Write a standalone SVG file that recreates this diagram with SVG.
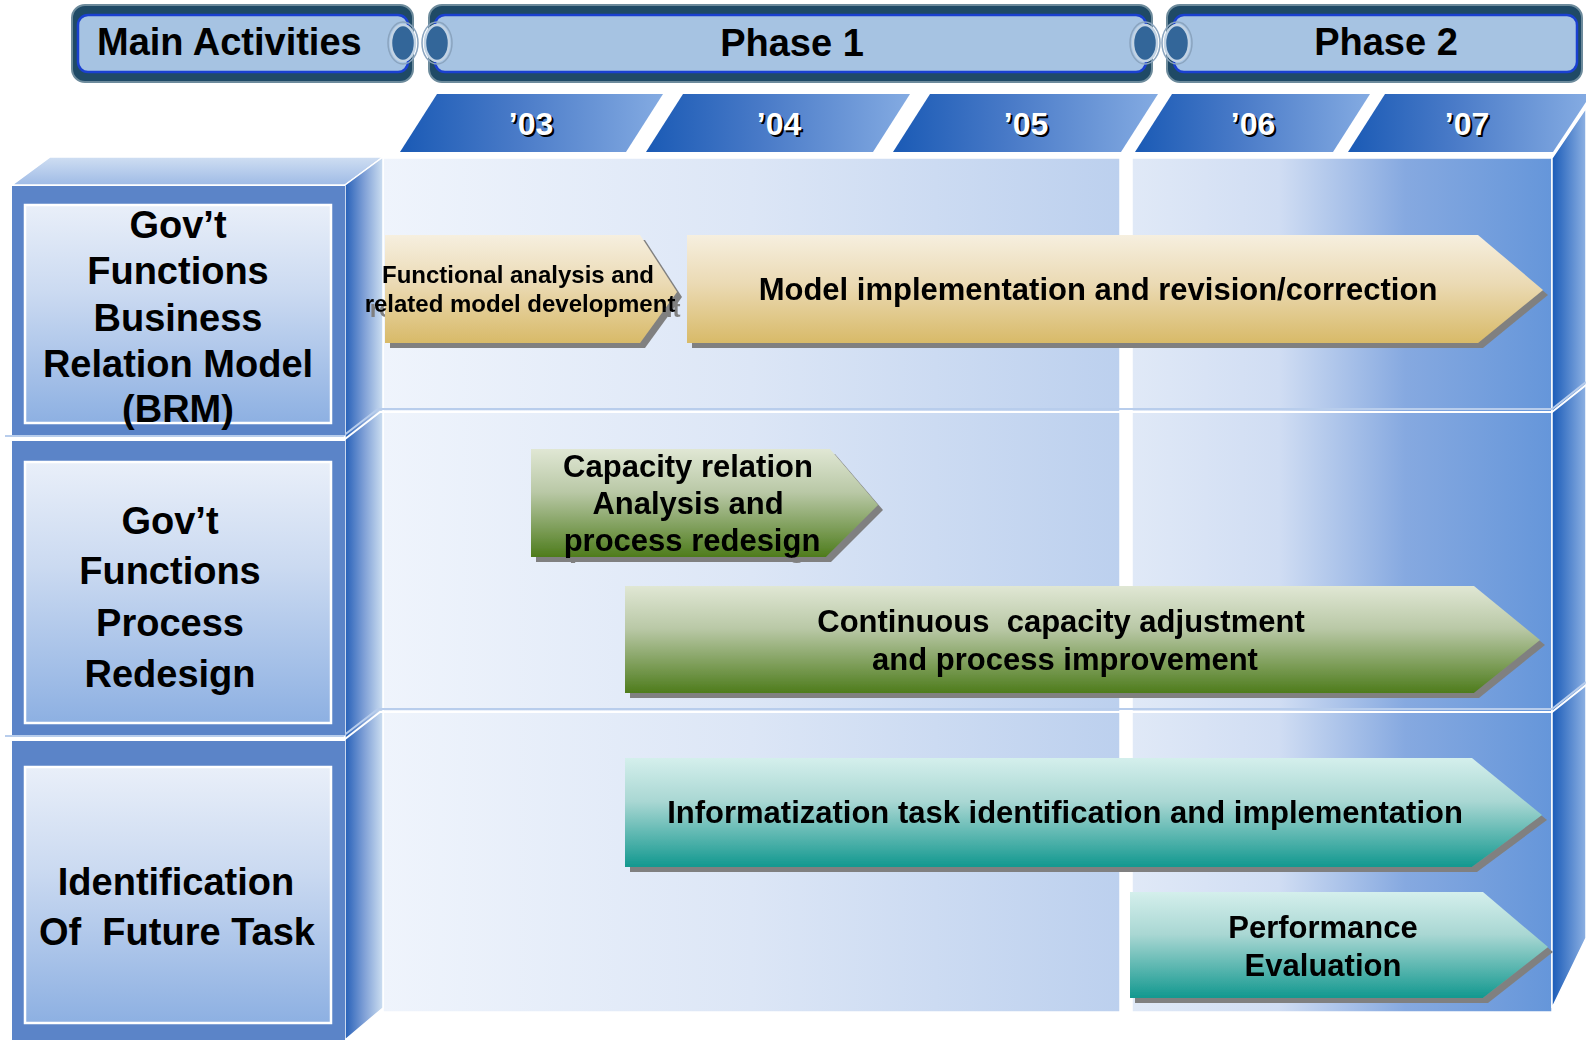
<svg xmlns="http://www.w3.org/2000/svg" width="1586" height="1040" viewBox="0 0 1586 1040">
<style>
text{font-family:"Liberation Sans",Arial,sans-serif;font-weight:bold;}
.hd{font-size:38px;fill:#000;}
.lb{font-size:38px;fill:#000;text-anchor:middle;}
.yr{font-size:32px;text-anchor:middle;}
.at{font-size:31px;fill:#000;text-anchor:middle;white-space:pre;}
.sm{font-size:24px;}
.arrow{filter:url(#ds);}
.hOuter{fill:#1f4a66;stroke:#6d8b9c;stroke-width:2;}
.hInner{fill:#a6c3e2;stroke:#1a40d0;stroke-width:2.5;}
.ring{fill:#336699;stroke:#c2d3e4;stroke-width:2.5;}
.ring2{fill:none;stroke:#8aa4bf;stroke-width:1.5;}
.inner{fill:url(#gInner);stroke:#ffffff;stroke-width:2.5;}
.outer{fill:#5b84c8;}
.sep{fill:none;stroke:#ffffff;stroke-width:2;}
.sep2{fill:none;stroke:#b8cdec;stroke-width:2;}
</style>
<defs>
<filter id="ds" x="-5%" y="-10%" width="115%" height="130%">
<feOffset in="SourceAlpha" dx="5" dy="5" result="off"/>
<feFlood flood-color="#808080"/>
<feComposite in2="off" operator="in" result="sh"/>
<feMerge><feMergeNode in="sh"/><feMergeNode in="SourceGraphic"/></feMerge>
</filter>
<linearGradient id="gYear" x1="0" y1="0" x2="1" y2="0">
<stop offset="0" stop-color="#1a5ab5"/><stop offset="0.45" stop-color="#4a7bc8"/><stop offset="1" stop-color="#84abe2"/>
</linearGradient>
<linearGradient id="gInner" x1="0" y1="0" x2="0" y2="1">
<stop offset="0" stop-color="#e9eff9"/><stop offset="0.4" stop-color="#cbdaf1"/><stop offset="1" stop-color="#8db0e2"/>
</linearGradient>
<linearGradient id="gTop" x1="0" y1="0" x2="0" y2="1">
<stop offset="0" stop-color="#cfdef2"/><stop offset="1" stop-color="#9fbbe6"/>
</linearGradient>
<linearGradient id="gSide" x1="0" y1="0" x2="1" y2="0">
<stop offset="0" stop-color="#2660b8"/><stop offset="0.5" stop-color="#7e9fd6"/><stop offset="1" stop-color="#cddff1"/>
</linearGradient>
<linearGradient id="gRSide" x1="0" y1="0" x2="1" y2="0">
<stop offset="0" stop-color="#1a5bb8"/><stop offset="1" stop-color="#8db1e3"/>
</linearGradient>
<linearGradient id="gPanL" x1="0" y1="0" x2="1" y2="0">
<stop offset="0" stop-color="#eff4fc"/><stop offset="0.5" stop-color="#dce6f6"/><stop offset="1" stop-color="#bcd0ee"/>
</linearGradient>
<linearGradient id="gPanR" x1="0" y1="0" x2="1" y2="0">
<stop offset="0" stop-color="#e0e9f7"/><stop offset="0.35" stop-color="#d0ddf3"/><stop offset="0.65" stop-color="#86a9e0"/><stop offset="1" stop-color="#6596da"/>
</linearGradient>
<linearGradient id="gTan" x1="0" y1="0" x2="0" y2="1">
<stop offset="0" stop-color="#f6efdf"/><stop offset="0.45" stop-color="#ebdab4"/><stop offset="1" stop-color="#d8ba68"/>
</linearGradient>
<linearGradient id="gGreen" x1="0" y1="0" x2="0" y2="1">
<stop offset="0" stop-color="#e0e7d4"/><stop offset="0.4" stop-color="#b9c8a6"/><stop offset="1" stop-color="#4e7c1c"/>
</linearGradient>
<linearGradient id="gTeal" x1="0" y1="0" x2="0" y2="1">
<stop offset="0" stop-color="#d4efec"/><stop offset="0.4" stop-color="#a9d7d3"/><stop offset="1" stop-color="#12988f"/>
</linearGradient>
</defs>

<rect x="0" y="0" width="1586" height="1040" fill="#ffffff"/>

<!-- Header bars -->
<g id="hdr-main">
<rect class="hOuter" x="72" y="5" width="341" height="77" rx="13"/>
<rect class="hInner" x="78" y="15" width="330" height="57" rx="10"/>
<text class="hd" x="97" y="55">Main Activities</text>
</g>
<g id="hdr-phase1">
<rect class="hOuter" x="429" y="5" width="723" height="77" rx="13"/>
<rect class="hInner" x="435" y="15" width="711" height="57" rx="10"/>
<text class="hd" x="792" y="56" text-anchor="middle">Phase 1</text>
</g>
<g id="hdr-phase2">
<rect class="hOuter" x="1167" y="5" width="415" height="77" rx="13"/>
<rect class="hInner" x="1174" y="15" width="403" height="57" rx="10"/>
<text class="hd" x="1386" y="55" text-anchor="middle">Phase 2</text>
</g>
<g id="hdr-links">
<ellipse class="ring2" cx="403" cy="43" rx="15" ry="21"/>
<ellipse class="ring" cx="403" cy="43" rx="12" ry="18"/>
<ellipse class="ring2" cx="437" cy="43" rx="15" ry="21"/>
<ellipse class="ring" cx="437" cy="43" rx="12" ry="18"/>
<ellipse class="ring2" cx="1145" cy="43" rx="15" ry="21"/>
<ellipse class="ring" cx="1145" cy="43" rx="12" ry="18"/>
<ellipse class="ring2" cx="1177" cy="43" rx="15" ry="21"/>
<ellipse class="ring" cx="1177" cy="43" rx="12" ry="18"/>
</g>

<!-- Year bands -->
<g id="year-03">
<polygon points="400,152 437,94 663,94 626,152" fill="url(#gYear)"/>
<text class="yr" x="533" y="137" fill="#000">’03</text>
<text class="yr" x="531" y="135" fill="#fff">’03</text>
</g>
<g id="year-04">
<polygon points="646,152 683,94 910,94 873,152" fill="url(#gYear)"/>
<text class="yr" x="781" y="137" fill="#000">’04</text>
<text class="yr" x="779" y="135" fill="#fff">’04</text>
</g>
<g id="year-05">
<polygon points="893,152 930,94 1158,94 1121,152" fill="url(#gYear)"/>
<text class="yr" x="1028" y="137" fill="#000">’05</text>
<text class="yr" x="1026" y="135" fill="#fff">’05</text>
</g>
<g id="year-06">
<polygon points="1135,152 1172,94 1370,94 1333,152" fill="url(#gYear)"/>
<text class="yr" x="1255" y="137" fill="#000">’06</text>
<text class="yr" x="1253" y="135" fill="#fff">’06</text>
</g>
<g id="year-07">
<polygon points="1348,152 1385,94 1586,94 1586,102 1553,152" fill="url(#gYear)"/>
<text class="yr" x="1469" y="137" fill="#000">’07</text>
<text class="yr" x="1467" y="135" fill="#fff">’07</text>
</g>

<!-- Main panel -->
<g id="panel">
<rect x="383" y="158" width="737" height="854" fill="url(#gPanL)" stroke="#ffffff" stroke-width="1.5"/>
<rect x="1132" y="158" width="420" height="854" fill="url(#gPanR)" stroke="#ffffff" stroke-width="1.5"/>
<polygon points="1552,158 1586,108 1586,938 1552,1008" fill="url(#gRSide)" stroke="#ffffff" stroke-width="1.5"/>
</g>

<!-- Left 3D block -->
<g id="left-block">
<polygon points="12,185 345,185 383,157 50,157" fill="url(#gTop)" stroke="#ffffff" stroke-width="1.5"/>
<polygon points="345,185 383,157 383,1008 345,1040" fill="url(#gSide)" stroke="#ffffff" stroke-width="1.5"/>
</g>

<!-- Row separators -->
<g id="separators">
<polyline class="sep2" points="5,436 343,436 378,409 1552,409 1586,382"/>
<polyline class="sep" points="5,439 345,439 380,412 1552,412 1586,385"/>
<polyline class="sep2" points="5,736 343,736 378,709 1552,709 1586,682"/>
<polyline class="sep" points="5,739 345,739 380,712 1552,712 1586,685"/>
</g>

<g id="row-brm">
<rect class="outer" x="12" y="186" width="333" height="249"/>
<rect class="inner" x="25" y="205" width="306" height="218"/>
<text class="lb" x="178" y="238">Gov’t</text>
<text class="lb" x="178" y="284">Functions</text>
<text class="lb" x="178" y="331">Business</text>
<text class="lb" x="178" y="377">Relation Model</text>
<text class="lb" x="178" y="422">(BRM)</text>
</g>
<g id="row-process">
<rect class="outer" x="12" y="441" width="333" height="294"/>
<rect class="inner" x="25" y="462" width="306" height="261"/>
<text class="lb" x="170" y="534">Gov’t</text>
<text class="lb" x="170" y="584">Functions</text>
<text class="lb" x="170" y="636">Process</text>
<text class="lb" x="170" y="687">Redesign</text>
</g>
<g id="row-future">
<rect class="outer" x="12" y="741" width="333" height="299"/>
<rect class="inner" x="25" y="767" width="306" height="256"/>
<text class="lb" x="176" y="895">Identification</text>
<text class="lb" x="177" y="945" style="white-space:pre">Of  Future Task</text>
</g>

<!-- Activity arrows -->
<g id="arrow-functional" class="arrow">
<polygon points="385,235 640,235 677,292 640,343 385,343" fill="url(#gTan)"/>
<text class="at sm" x="518" y="283">Functional analysis and</text>
<text class="at sm" x="520" y="312">related model development</text>
</g>
<g id="arrow-model" class="arrow">
<polygon points="687,235 1478,235 1543,290 1478,343 687,343" fill="url(#gTan)"/>
<text class="at" x="1098" y="300">Model implementation and revision/correction</text>
</g>
<g id="arrow-capacity" class="arrow">
<polygon points="531,449 830,449 878,505 826,557 531,557" fill="url(#gGreen)"/>
<text class="at" x="688" y="477">Capacity relation</text>
<text class="at" x="688" y="514">Analysis and</text>
<text class="at" x="692" y="551">process redesign</text>
</g>
<g id="arrow-continuous" class="arrow">
<polygon points="625,586 1474,586 1540,640 1474,693 625,693" fill="url(#gGreen)"/>
<text class="at" x="1061" y="632">Continuous  capacity adjustment</text>
<text class="at" x="1065" y="670">and process improvement</text>
</g>
<g id="arrow-informatization" class="arrow">
<polygon points="625,758 1472,758 1542,815 1472,867 625,867" fill="url(#gTeal)"/>
<text class="at" x="1065" y="823">Informatization task identification and implementation</text>
</g>
<g id="arrow-performance" class="arrow">
<polygon points="1130,892 1483,892 1548,947 1483,998 1130,998" fill="url(#gTeal)"/>
<text class="at" x="1323" y="938">Performance</text>
<text class="at" x="1323" y="976">Evaluation</text>
</g>
</svg>
